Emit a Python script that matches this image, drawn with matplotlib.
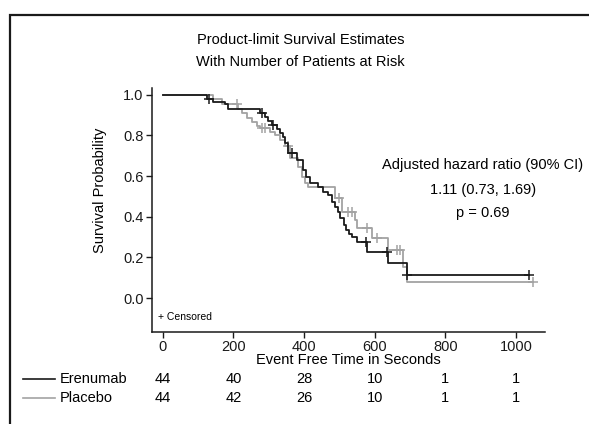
import matplotlib
matplotlib.use("Agg")
import matplotlib.pyplot as plt
from matplotlib.patches import Rectangle
from matplotlib.lines import Line2D
import matplotlib.transforms as mtransforms

plt.rcParams['font.family'] = ['Liberation Sans Narrow', 'Liberation Sans', 'DejaVu Sans']

# Kaplan-Meier step curves (time, survival after the step)
ere_t = [0, 125, 142, 175, 184, 275, 289, 297, 309, 323, 331, 340, 346, 354, 380, 397, 405,
         416, 439, 453, 467, 479, 487, 496, 501, 513, 518, 527, 535, 550, 578, 637, 691]
ere_s = [1.0, 0.977, 0.965, 0.955, 0.930, 0.909, 0.89, 0.87, 0.85, 0.83, 0.81, 0.79, 0.76, 0.714,
         0.68, 0.63, 0.596, 0.566, 0.547, 0.52, 0.507, 0.473, 0.448, 0.424, 0.394, 0.36, 0.335,
         0.315, 0.30, 0.276, 0.227, 0.17, 0.115]
ere_end = 1037
ere_cens_t = [130, 280, 312, 365, 575, 636, 692, 1037]

pla_t = [0, 142, 167, 212, 224, 238, 252, 266, 275, 303, 317, 331, 346, 360, 382, 394, 402,
         411, 487, 507, 544, 550, 592, 637, 680, 691]
pla_s = [1.0, 0.977, 0.955, 0.932, 0.909, 0.886, 0.867, 0.847, 0.837, 0.818, 0.80, 0.778, 0.75,
         0.69, 0.645, 0.596, 0.567, 0.547, 0.49, 0.424, 0.384, 0.345, 0.295, 0.236, 0.155, 0.08]
pla_end = 1048
pla_cens_t = [210, 280, 288, 354, 498, 524, 535, 578, 606, 663, 671, 1048]

risk_times = [0, 200, 400, 600, 800, 1000]
ere_risk = [44, 40, 28, 10, 1, 1]
pla_risk = [44, 42, 26, 10, 1, 1]

BLACK = '#1a1a1a'
GRAY = '#a3a3a3'


def level_at(ts, ss, t):
    val = ss[0]
    for a, b in zip(ts, ss):
        if a <= t:
            val = b
    return val


fig = plt.figure(figsize=(5.89, 4.24), dpi=100)
ax = fig.add_axes([0.258, 0.217, 0.667, 0.576])

# outer frame
fig.patches.append(Rectangle((10 / 589, -0.1), 1.2, (424 - 15) / 424 + 0.1,
                             transform=fig.transFigure, fill=False,
                             edgecolor=BLACK, linewidth=1.6))

for ts, ss, end, cens, col in [(pla_t, pla_s, pla_end, pla_cens_t, GRAY),
                               (ere_t, ere_s, ere_end, ere_cens_t, BLACK)]:
    ax.step(ts + [end], ss + [ss[-1]], where='post', color=col, lw=1.3)
    cy = [level_at(ts, ss, c) for c in cens]
    ax.plot(cens, cy, ls='none', marker='+', ms=7, mew=1.1, color=col)

ax.set_xlim(-31, 1082)
ax.set_ylim(-0.167, 1.034)
ax.set_xticks(risk_times)
ax.set_yticks([0.0, 0.2, 0.4, 0.6, 0.8, 1.0])
ax.set_yticklabels(['0.0', '0.2', '0.4', '0.6', '0.8', '1.0'])
ax.spines['top'].set_visible(False)
ax.spines['right'].set_visible(False)
for sp in ['left', 'bottom']:
    ax.spines[sp].set_linewidth(1.1)
    ax.spines[sp].set_color(BLACK)
ax.tick_params(direction='out', length=4, width=1, labelsize=10.5, colors=BLACK, pad=2)
ax.set_ylabel('Survival Probability', fontsize=10.5)
ax.yaxis.set_label_coords(-0.115, 0.58)
ax.set_xlabel('Event Free Time in Seconds', fontsize=10.5, labelpad=-1)

fig.text(0.51, 0.905, 'Product-limit Survival Estimates', ha='center', va='center', fontsize=10.5)
fig.text(0.51, 0.853, 'With Number of Patients at Risk', ha='center', va='center', fontsize=10.5)

fig.text(0.82, 0.612, 'Adjusted hazard ratio (90% CI)', ha='center', va='center', fontsize=10.5)
fig.text(0.82, 0.553, '1.11 (0.73, 1.69)', ha='center', va='center', fontsize=10.5)
fig.text(0.82, 0.497, 'p = 0.69', ha='center', va='center', fontsize=10.5)

ax.text(0.015, 0.04, '+ Censored', transform=ax.transAxes, fontsize=7.5, va='bottom')

# at-risk table
trans = mtransforms.blended_transform_factory(ax.transData, fig.transFigure)
for row_y, name, col, vals in [(1 - 379 / 424, 'Erenumab', BLACK, ere_risk),
                               (1 - 398 / 424, 'Placebo', GRAY, pla_risk)]:
    fig.add_artist(Line2D([23 / 589, 55 / 589], [row_y, row_y], color=col, lw=1.2,
                          transform=fig.transFigure))
    fig.text(60 / 589, row_y, name, ha='left', va='center', fontsize=10.5)
    for t, n in zip(risk_times, vals):
        fig.text(t, row_y, str(n), ha='center', va='center', fontsize=10.5, transform=trans)

fig.savefig('out.png', dpi=100)
